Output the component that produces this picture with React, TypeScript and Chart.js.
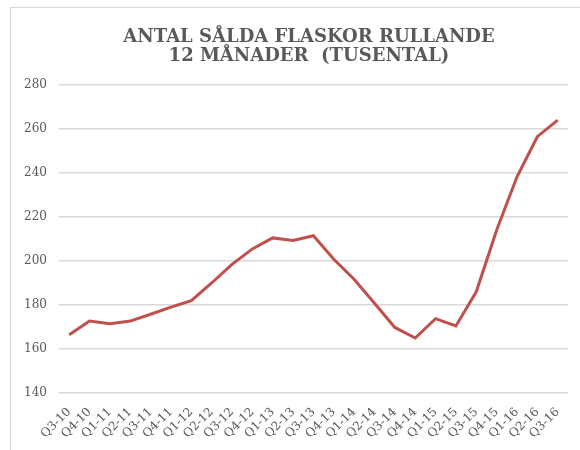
import React, { useEffect, useRef } from "react";
import { Chart, registerables } from "chart.js";

Chart.register(...registerables);

const titleLines = ["ANTAL SÅLDA FLASKOR RULLANDE", "12 MÅNADER  (TUSENTAL)"];
const quarters = [
  "Q3-10", "Q4-10", "Q1-11", "Q2-11", "Q3-11", "Q4-11", "Q1-12", "Q2-12", "Q3-12",
  "Q4-12", "Q1-13", "Q2-13", "Q3-13", "Q4-13", "Q1-14", "Q2-14", "Q3-14", "Q4-14",
  "Q1-15", "Q2-15", "Q3-15", "Q4-15", "Q1-16", "Q2-16", "Q3-16",
];
const bottles = [
  166.5, 172.7, 171.5, 172.7, 175.8, 179, 182, 190, 198.5,
  205.5, 210.5, 209.3, 211.5, 200.8, 191.7, 180.8, 169.8, 165,
  173.8, 170.5, 186, 214, 238.3, 256.5, 264,
];
const yMin = 140;
const yMax = 280;
const yStep = 20;

const TEXT = "#595959";
const GRID = "#d9d9d9";
const LINE = "#c0504d";

const titlePlugin = {
  id: "customTitle",
  afterDraw(chart: any) {
    const ctx = chart.ctx;
    ctx.save();
    ctx.fillStyle = TEXT;
    ctx.font = "bold 18px 'DejaVu Serif'";
    ctx.textAlign = "center";
    ctx.textBaseline = "alphabetic";
    ctx.fillText(titleLines[0], 309, 42);
    ctx.fillText(titleLines[1], 309, 61);
    ctx.restore();
  },
};

export default function App() {
  const ref = useRef<HTMLCanvasElement>(null);
  useEffect(() => {
    if (!ref.current) return;
    const chart = new Chart(ref.current, {
      type: "line",
      data: {
        labels: quarters,
        datasets: [
          {
            data: bottles,
            borderColor: LINE,
            borderWidth: 3,
            pointRadius: 0,
            tension: 0,
            fill: false,
          },
        ],
      },
      options: {
        responsive: false,
        animation: false,
        layout: { padding: { left: 20, right: 7, top: 85, bottom: 0 } },
        plugins: {
          legend: { display: false },
          title: { display: false },
          tooltip: { enabled: false },
        },
        scales: {
          x: {
            offset: true,
            grid: { display: false, drawTicks: false },
            border: { display: false },
            ticks: {
              color: TEXT,
              font: { family: "'DejaVu Serif'", size: 12 },
              minRotation: 45,
              maxRotation: 45,
              autoSkip: false,
              padding: 12,
            },
            afterFit(scale: any) {
              scale.height = 57;
            },
          },
          y: {
            min: yMin,
            max: yMax,
            grid: { color: GRID, lineWidth: 1.5, drawTicks: false },
            border: { display: false },
            ticks: {
              stepSize: yStep,
              color: TEXT,
              font: { family: "'DejaVu Serif'", size: 12 },
              padding: 12,
            },
            afterFit(scale: any) {
              scale.width = 39;
            },
          },
        },
      },
      plugins: [titlePlugin],
    });
    return () => chart.destroy();
  }, []);

  return (
    <div style={{ position: "fixed", left: 0, top: 0, width: 580, height: 450, overflow: "hidden", background: "#fff" }}>
      <div
        style={{
          position: "absolute",
          left: 10,
          top: 7,
          width: 700,
          height: 600,
          borderTop: "1.5px solid #d9d9d9",
          borderLeft: "1.5px solid #d9d9d9",
        }}
      />
      <canvas ref={ref} width={580} height={450} style={{ position: "absolute", left: 0, top: 0 }} />
    </div>
  );
}
